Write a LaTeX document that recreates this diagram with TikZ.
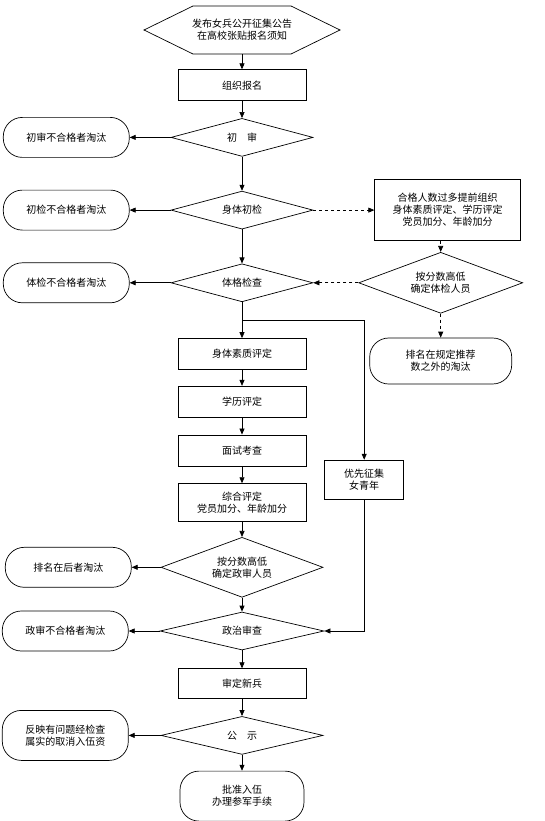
\documentclass[tikz,border=0pt]{standalone}
\usepackage{fontspec}
\setmainfont{Noto Sans CJK SC}
\usetikzlibrary{shapes.geometric, positioning, arrows.meta}

\tikzset{
  proc/.style={draw, rectangle, minimum width=128pt, minimum height=31pt, inner sep=2pt, align=center},
  check/.style={draw, diamond, aspect=2.7, minimum width=142pt, minimum height=38pt, inner sep=0pt, align=center},
  drop/.style={draw, rectangle, rounded corners=19pt, minimum width=126pt, minimum height=40pt, align=center},
  flow/.style={-{Triangle[length=6pt,width=5pt]}},
}

\begin{document}
\begin{tikzpicture}[x=1pt, y=-1pt, font=\fontsize{10}{12}\selectfont, line width=0.7pt]
        \useasboundingbox (0,0) rectangle (544,821);
        % main column
        \node[minimum width=98pt, minimum height=48pt, inner sep=0pt, align=center] (pub) at (242,30) {发布女兵公开征集公告\\在高校张贴报名须知};
        \draw (pub.center) ++(-49,-24) -- ++(98,0) -- ++(49,24) -- ++(-49,24) -- ++(-98,0) -- ++(-49,-24) -- cycle;
        \node[proc] (sign) [below=15pt of pub] {组织报名};
        \node[check] (first) [below=17pt of sign] {初\hspace{1em}审};
        \node[check] (body) [below=34pt of first] {身体初检};
        \node[check] (exam) [below=34pt of body] {体格检查};
        \coordinate[below=18pt of exam.south] (split);
        \node[proc] (fit) [below=36pt of exam] {身体素质评定};
        \node[proc] (edu) [below=16pt of fit] {学历评定};
        \node[proc] (talk) [below=17pt of edu] {面试考查};
        \node[proc, minimum height=38pt] (score) [below=17pt of talk] {综合评定\\党员加分、年龄加分};
        \node[check, minimum width=162pt, minimum height=60pt] (rank) [below=15pt of score] {按分数高低\\确定政审人员};
        \node[check, minimum width=164pt] (pol) [below=14pt of rank] {政治审查};
        \node[proc, minimum height=30pt] (fix) [below=18pt of pol] {审定新兵};
        \node[check, minimum width=162pt] (show) [below=17pt of fix] {公\hspace{1em}示};
        \node[drop, minimum width=124pt, minimum height=50pt] (enlist) [below=16pt of show] {批准入伍\\办理参军手续};
        % left column
        \node[drop] (out1) [left=41pt of first] {初审不合格者淘汰};
        \node[drop] (out2) [left=41pt of body] {初检不合格者淘汰};
        \node[drop] (out3) [left=41pt of exam] {体检不合格者淘汰};
        \node[drop] (out4) [left=29pt of rank] {排名在后者淘汰};
        \node[drop] (out5) [left=31pt of pol] {政审不合格者淘汰};
        \node[drop, minimum height=50pt] (out6) [left=32pt of show] {反映有问题经检查\\属实的取消入伍资};
        % right column
        \node[proc, minimum width=146pt, minimum height=61pt] (early) [right=61pt of body] {合格人数过多提前组织\\身体素质评定、学历评定\\党员加分、年龄加分};
        \node[check, minimum width=164pt, minimum height=61pt] (pick) [right=45pt of exam] {按分数高低\\确定体检人员};
        \node[drop, minimum width=142pt, minimum height=46pt] (cut) [below=24pt of pick] {排名在规定推荐\\数之外的淘汰};
        \node[proc, minimum width=79pt, minimum height=39pt] (prior) [right=18pt of score, yshift=23pt] {优先征集\\女青年};
        \path[flow]
                (pub) edge (sign)
                (sign) edge (first)
                (first) edge (body)
                    edge (out1)
                (body) edge (exam)
                    edge (out2)
                    edge [dashed] (early)
                (pick.north |- early.south) edge [dashed] (pick)
                (pick) edge [dashed] (exam)
                    edge [dashed] (cut)
                (exam) edge (fit)
                    edge (out3)
                (fit) edge (edu)
                (edu) edge (talk)
                (talk) edge (score)
                (score) edge (rank)
                (rank) edge (pol)
                    edge (out4)
                (pol) edge (fix)
                    edge (out5)
                (fix) edge (show)
                (show) edge (enlist)
                    edge (out6);
        \draw[flow] (split) -| (prior);
        \draw[flow] (prior) |- (pol);
    \end{tikzpicture}
\end{document}
